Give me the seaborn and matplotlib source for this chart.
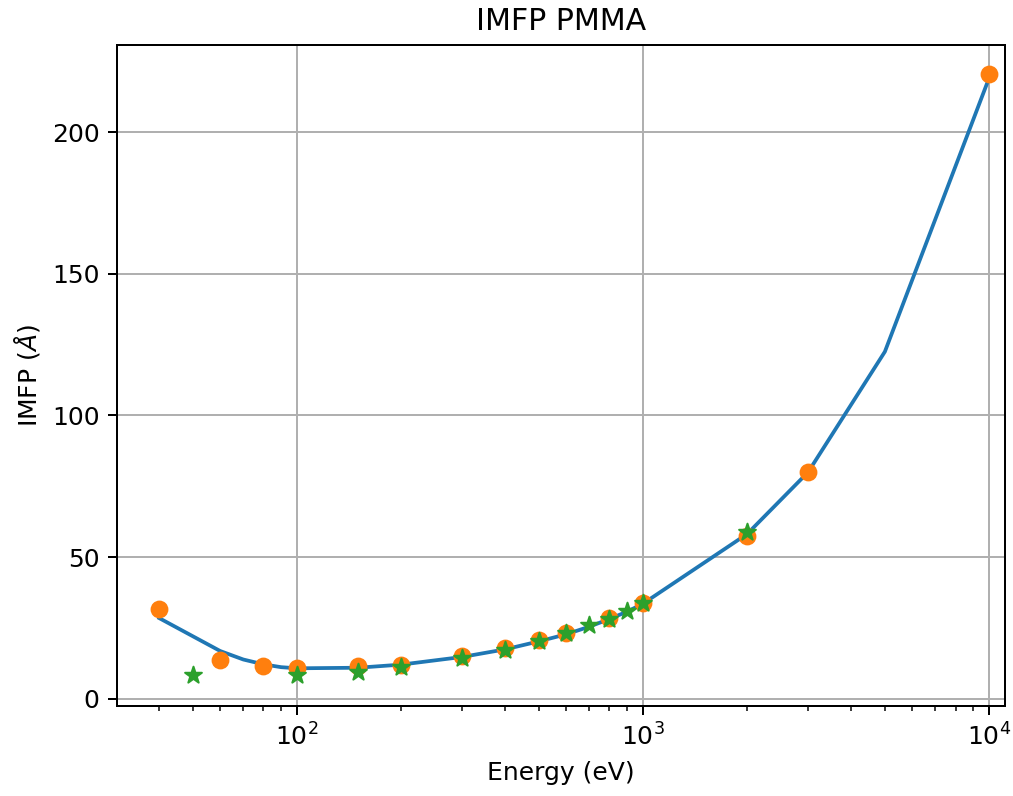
import matplotlib
matplotlib.use("Agg")
import matplotlib.pyplot as plt
import seaborn as sns
import pandas as pd

# model curve (blue line)
line_energy = [40, 60, 70, 80, 90, 100, 150, 200, 300, 400, 500, 600, 700, 800, 900, 1000, 2000, 3000, 5000, 10000]
line_imfp = [28.5, 16.9, 13.9, 12.2, 11.2, 10.8, 11.0, 12.1, 14.8, 17.5, 20.3, 22.8, 25.5, 28.2, 30.8, 33.6, 58.2, 80.0, 122.5, 219.0]

# reference points (orange circles)
ref_energy = [40, 60, 80, 100, 150, 200, 300, 400, 500, 600, 800, 1000, 2000, 3000, 10000]
ref_imfp = [31.7, 13.8, 11.6, 10.9, 11.5, 12.0, 15.0, 17.8, 20.9, 23.4, 28.4, 33.9, 57.3, 80.2, 220.3]

# second data set (green stars)
star_energy = [50, 100, 150, 200, 300, 400, 500, 600, 700, 800, 900, 1000, 2000]
star_imfp = [8.3, 8.3, 9.6, 11.1, 14.3, 17.3, 20.5, 23.1, 26.0, 28.2, 31.1, 34.0, 58.8]

df_line = pd.DataFrame({"Energy": line_energy, "IMFP": line_imfp})
df_ref = pd.DataFrame({"Energy": ref_energy, "IMFP": ref_imfp})
df_star = pd.DataFrame({"Energy": star_energy, "IMFP": star_imfp})

W, H, DPI = 1013, 796, 180
fig = plt.figure(figsize=(W / DPI, H / DPI), dpi=DPI)
ax = fig.add_axes([117 / W, 1 - 706 / H, (1005 - 117) / W, (706 - 45) / H])

sns.lineplot(data=df_line, x="Energy", y="IMFP", color="C0", lw=1.5, ax=ax)
sns.scatterplot(data=df_ref, x="Energy", y="IMFP", color="C1", marker="o",
                s=40, edgecolor="C1", linewidth=0.8, ax=ax, zorder=3)
sns.scatterplot(data=df_star, x="Energy", y="IMFP", color="C2", marker="*",
                s=50, edgecolor="C2", linewidth=0.8, ax=ax, zorder=4)

ax.set_xscale("log")
ax.set_xlim(30.2, 11120)
ax.set_ylim(-2.5, 230.7)
ax.grid(True)
ax.set_xlabel("Energy (eV)")
ax.set_ylabel(r"IMFP ($\AA$)")
ax.set_title("IMFP PMMA")

fig.savefig("out.png", dpi=DPI)
